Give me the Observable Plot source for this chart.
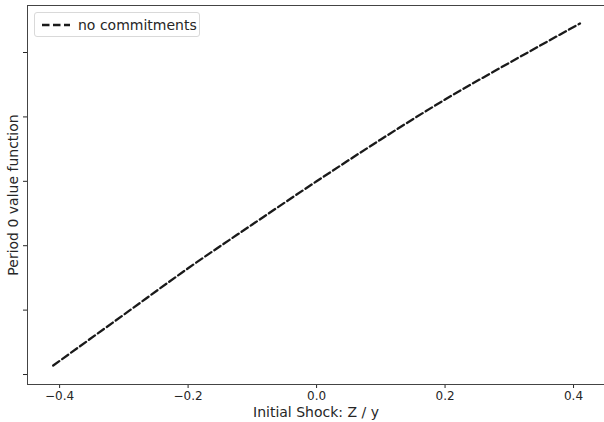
<!DOCTYPE html>
<html>
<head>
<meta charset="utf-8">
<script src="https://cdn.jsdelivr.net/npm/d3@7"></script>
<script src="https://cdn.jsdelivr.net/npm/@observablehq/plot@0.6"></script>
<style>
  html, body { margin: 0; padding: 0; background: #fff; }
  #wrap { position: relative; width: 604px; height: 422px; font-family: "DejaVu Sans", sans-serif; }
  #legend { position: absolute; left: 34px; top: 12px; width: 166px; height: 25px; box-sizing: border-box;
            border: 1px solid #d9d9d9; border-radius: 3px; background: rgba(255,255,255,0.8);
            display: flex; align-items: center; font-size: 14px; color: #262626; }
  #legend svg { margin-left: 7px; margin-right: 8px; }
</style>
</head>
<body>
<div id="wrap">
  <div id="chart"></div>
  <div id="legend"><svg width="28" height="4"><line x1="0" y1="2" x2="28" y2="2" stroke="#1a1a1a" stroke-width="2.3" stroke-dasharray="7.5,3.5"/></svg><span>no commitments</span></div>
</div>
<script>
// Initial shock Z / y
const shock = [-0.41, -0.3, -0.2, -0.1, 0.0, 0.1, 0.2, 0.3, 0.41];
// Period 0 value function (arbitrary units; tick labels hidden in original)
const value = [0.14, 0.93, 1.65, 2.33, 3.00, 3.65, 4.27, 4.84, 5.45];
const xTicks = [-0.4, -0.2, 0.0, 0.2, 0.4];
const yTicks = [0, 1, 2, 3, 4, 5];
const seriesLabel = "no commitments";

const data = shock.map((s, i) => ({shock: s, value: value[i]}));
const xDomain = [-0.45, 0.4482];
const yDomain = [-0.155, 5.73];
const fmt = d3.format(".1f");

const chart = Plot.plot({
  width: 604,
  height: 422,
  marginLeft: 27,
  marginRight: 0,
  marginTop: 5,
  marginBottom: 38,
  style: {fontFamily: "DejaVu Sans, sans-serif", fontSize: "12px", color: "#262626", overflow: "visible"},
  x: {domain: xDomain},
  y: {domain: yDomain},
  marks: [
    Plot.axisX(xTicks, {tickFormat: d => fmt(d).replace("-", "\u2212"), tickSize: 4, tickPadding: 3,
      label: "Initial Shock: Z / y", labelAnchor: "center", labelArrow: "none", labelOffset: 32, fontSize: 12}),
    Plot.axisY(yTicks, {tickFormat: () => "", tickSize: 4,
      label: "Period 0 value function", labelAnchor: "center", labelArrow: "none", labelOffset: 19}),
    Plot.ruleX([xDomain[0]], {stroke: "#444", strokeWidth: 1}),
    Plot.ruleY([yDomain[0], yDomain[1]], {stroke: "#444", strokeWidth: 1}),
    Plot.line(data, {x: "shock", y: "value", stroke: "#1a1a1a", strokeWidth: 2.3, strokeDasharray: "7.5,3.5", curve: "monotone-x"})
  ]
});
chart.querySelectorAll("g[aria-label='x-axis label'] text, g[aria-label='y-axis label'] text").forEach(t => t.setAttribute("font-size", "14"));
document.getElementById("chart").appendChild(chart);
</script>
</body>
</html>
